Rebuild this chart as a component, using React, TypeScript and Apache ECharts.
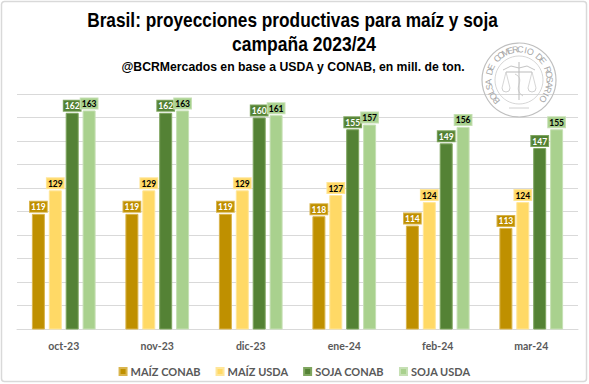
import React, { useEffect, useRef } from "react";
import * as echarts from "echarts";

const categories = ["oct-23", "nov-23", "dic-23", "ene-24", "feb-24", "mar-24"];
const maizConab = [119, 119, 119, 118, 114, 113];
const maizUsda = [129, 129, 129, 127, 124, 124];
const sojaConab = [162, 162, 160, 155, 149, 147];
const sojaUsda = [163, 163, 161, 157, 156, 155];
const seriesNames = ["MAÍZ CONAB", "MAÍZ USDA", "SOJA CONAB", "SOJA USDA"];
const titleLines = ["Brasil: proyecciones productivas para maíz y soja", "campaña 2023/24"];
const subtitle = "@BCRMercados en base a USDA y CONAB, en mill. de ton.";
const sealText = "BOLSA DE COMERCIO DE ROSARIO";

const colors = ["#BF9000", "#FFD966", "#548235", "#A9D18E"];
const borders = ["#D9B54D", "#FFE699", "#7FA65F", "#C6E0B4"];
const labelText = ["#FFFFFF", "#000000", "#FFFFFF", "#000000"];

const headFont = "'Liberation Sans', Arial, sans-serif";

function fitText(text: string, font: string, targetWidth: number) {
  try {
    const c = document.createElement("canvas").getContext("2d");
    if (!c) return 1;
    c.font = font;
    const w = c.measureText(text).width;
    return w > 0 ? targetWidth / w : 1;
  } catch (e) {
    return 1;
  }
}

function headerText(text: string, size: number, cx: number, cy: number, width: number) {
  const font = `bold ${size}px ${headFont}`;
  return {
    type: "text",
    x: cx,
    y: cy,
    scaleX: fitText(text, font, width),
    z: 5,
    style: { text, font, fill: "#000000", align: "center", verticalAlign: "middle" },
  };
}

function sealGraphics() {
  const cx = 519, cy = 80;
  const g = "#C4C4C4";
  const els: any[] = [
    { type: "circle", shape: { cx, cy, r: 37 }, style: { fill: "none", stroke: "#BFBFBF", lineWidth: 1.2 }, z: 1 },
    { type: "circle", shape: { cx, cy, r: 24 }, style: { fill: "none", stroke: "#CCCCCC", lineWidth: 0.8 }, z: 1 },
    { type: "line", shape: { x1: cx, y1: cy - 18, x2: cx, y2: cy + 20 }, style: { stroke: "#BBBBBB", lineWidth: 1 }, z: 1 },
    { type: "line", shape: { x1: cx - 13, y1: cy - 8, x2: cx + 13, y2: cy - 8 }, style: { stroke: "#BBBBBB", lineWidth: 1 }, z: 1 },
    { type: "polyline", shape: { points: [[cx - 16, cy - 10], [cx - 8, cy - 14], [cx, cy - 12], [cx + 8, cy - 14], [cx + 16, cy - 10]] }, style: { fill: "none", stroke: g, lineWidth: 1 }, z: 1 },
    { type: "line", shape: { x1: cx - 13, y1: cy - 8, x2: cx - 17, y2: cy + 8 }, style: { stroke: g, lineWidth: 0.7 }, z: 1 },
    { type: "line", shape: { x1: cx - 13, y1: cy - 8, x2: cx - 9, y2: cy + 8 }, style: { stroke: g, lineWidth: 0.7 }, z: 1 },
    { type: "line", shape: { x1: cx + 13, y1: cy - 8, x2: cx + 9, y2: cy + 8 }, style: { stroke: g, lineWidth: 0.7 }, z: 1 },
    { type: "line", shape: { x1: cx + 13, y1: cy - 8, x2: cx + 17, y2: cy + 8 }, style: { stroke: g, lineWidth: 0.7 }, z: 1 },
    { type: "arc", shape: { cx: cx - 13, cy: cy + 8, r: 4, startAngle: 0, endAngle: Math.PI }, style: { fill: "none", stroke: g, lineWidth: 0.8 }, z: 1 },
    { type: "arc", shape: { cx: cx + 13, cy: cy + 8, r: 4, startAngle: 0, endAngle: Math.PI }, style: { fill: "none", stroke: g, lineWidth: 0.8 }, z: 1 },
    { type: "bezierCurve", shape: { x1: cx - 4, y1: cy - 6, x2: cx + 4, y2: cy + 16, cpx1: cx + 8, cpy1: cy, cpx2: cx - 8, cpy2: cy + 8 }, style: { fill: "none", stroke: g, lineWidth: 0.8 }, z: 1 },
    { type: "line", shape: { x1: cx - 10, y1: cy + 28, x2: cx + 10, y2: cy + 28 }, style: { stroke: g, lineWidth: 0.8 }, z: 1 },
  ];
  const start = (222 * Math.PI) / 180;
  const end = (-38 * Math.PI) / 180;
  const n = sealText.length;
  const r = 30.5;
  for (let i = 0; i < n; i++) {
    const th = start + ((end - start) * i) / (n - 1);
    els.push({
      type: "text",
      x: cx + r * Math.cos(th),
      y: cy - r * Math.sin(th),
      rotation: th - Math.PI / 2,
      z: 1,
      style: {
        text: sealText[i],
        fill: "#A6A6A6",
        font: "9px 'Liberation Sans', sans-serif",
        align: "center",
        verticalAlign: "middle",
      },
    });
  }
  return els;
}

export default function App() {
  const ref = useRef<HTMLDivElement>(null);
  useEffect(() => {
    if (!ref.current) return;
    const chart = echarts.init(ref.current, null, { renderer: "svg" });
    const seriesData = [maizConab, maizUsda, sojaConab, sojaUsda];
    chart.setOption({
      animation: false,
      backgroundColor: "#FFFFFF",
      color: colors,
      grid: { left: 17, right: 11, top: 94, bottom: 55, containLabel: false },
      legend: {
        data: seriesNames,
        top: 361,
        left: "center",
        icon: "rect",
        itemWidth: 7,
        itemHeight: 7,
        itemGap: 15,
        textStyle: { fontFamily: "Lato, sans-serif", fontSize: 11, fontWeight: "bold", color: "#595959", padding: [0, 0, 0, -1] },
      },
      xAxis: {
        type: "category",
        data: categories,
        axisTick: { show: false },
        axisLine: { lineStyle: { color: "#D9D9D9", width: 1 } },
        axisLabel: { color: "#595959", fontFamily: "Lato, sans-serif", fontSize: 10.5, fontWeight: "bold", margin: 11 },
      },
      yAxis: {
        type: "value",
        min: 70,
        max: 170,
        interval: 10,
        axisLabel: { show: false },
        axisLine: { show: false },
        axisTick: { show: false },
        splitLine: { lineStyle: { color: "#D9D9D9", width: 1 } },
      },
      series: seriesNames.map((name, i) => ({
        name,
        type: "bar",
        data: seriesData[i],
        barWidth: 13,
        barGap: "30%",
        itemStyle: { color: colors[i], borderColor: borders[i], borderWidth: 1 },
        label: {
          show: true,
          position: "top",
          distance: 2,
          color: labelText[i],
          fontFamily: "Lato, sans-serif",
          fontSize: 8.5,
          lineHeight: 9,
          fontWeight: "bold",
          backgroundColor: colors[i],
          borderColor: borders[i],
          borderWidth: 1,
          padding: [1, 1, 0, 1],
        },
      })),
      graphic: [
        { type: "rect", shape: { x: 1.5, y: 1.5, width: 585, height: 380, r: 3 }, style: { fill: "none", stroke: "#D9D9D9", lineWidth: 1.5 }, z: 0, silent: true },
        ...sealGraphics(),
        headerText(titleLines[0], 19.5, 292.5, 20, 411),
        headerText(titleLines[1], 19.5, 304, 44, 144),
        headerText(subtitle, 13.5, 293, 66.5, 344),
      ],
    });
    return () => chart.dispose();
  }, []);
  return <div ref={ref} style={{ position: "absolute", left: 0, top: 0, width: 589, height: 384 }} />;
}
